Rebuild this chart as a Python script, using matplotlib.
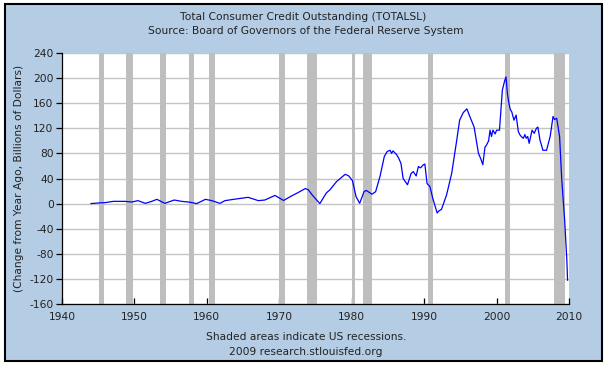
import matplotlib
matplotlib.use("Agg")
import matplotlib.pyplot as plt
from matplotlib.patches import Rectangle

# ---- data ----
years = [1944.0, 1945.0, 1945.9, 1947.1, 1948.7, 1949.6, 1950.5, 1951.5, 1952.4, 1953.1,
         1954.2, 1955.5, 1956.5, 1957.5, 1958.6, 1959.8, 1960.7, 1961.8, 1962.5, 1963.7,
         1965.7, 1967.1, 1968.0, 1969.4, 1970.6, 1971.5, 1972.5, 1973.6, 1974.0, 1974.6,
         1975.6, 1976.5, 1977.0, 1977.9, 1979.1, 1979.6, 1980.1, 1980.6, 1981.1, 1981.7,
         1982.0, 1982.8, 1983.3, 1983.9, 1984.5, 1984.9, 1985.3, 1985.5, 1985.7, 1986.2,
         1986.5, 1986.8, 1987.1, 1987.7, 1988.2, 1988.5, 1988.9, 1989.2, 1989.5, 1989.9,
         1990.1, 1990.4, 1990.8, 1991.2, 1991.8, 1992.0, 1992.4, 1993.1, 1993.8, 1994.5,
         1994.9, 1995.4, 1995.9, 1996.3, 1996.9, 1997.5, 1997.8, 1998.1, 1998.4, 1998.6,
         1998.9, 1999.1, 1999.3, 1999.5, 1999.8, 2000.0, 2000.4, 2000.8, 2001.1, 2001.3,
         2001.5, 2001.7, 2001.9, 2002.1, 2002.4, 2002.7, 2003.0, 2003.2, 2003.4, 2003.7,
         2003.9, 2004.1, 2004.3, 2004.5, 2004.9, 2005.2, 2005.5, 2005.7, 2006.0, 2006.4,
         2006.9, 2007.4, 2007.8, 2008.0, 2008.3, 2008.7, 2009.0, 2009.4, 2009.7, 2009.8]
values = [0, 1, 1.5, 3.6, 3.6, 2.5, 4.7, 0.4, 3.6, 6.8,
          0.4, 5.7, 3.6, 2.5, 0, 6.8, 4.7, 0.4, 4.7, 6.8,
          10, 4.7, 5.7, 13, 5, 11, 17, 24, 22, 13,
          0, 17, 22, 35, 46.7, 44, 36.6, 11, 0.5, 19,
          21, 15, 19, 43, 75, 83, 85, 80, 84, 78,
          72, 64, 40, 30, 48, 51, 44, 59, 57, 62,
          63, 32, 27, 8, -15, -12, -9, 14, 48, 101,
          133, 145, 151, 139, 122, 80, 72, 62, 90, 93,
          100, 117, 107, 117, 111, 117, 117, 181, 195, 202,
          175, 160, 150, 146, 133, 141, 115, 110, 107, 104,
          110, 104, 107, 96, 117, 112, 120, 122, 101, 85,
          85, 107, 139, 134, 136, 107, 38, -26, -90, -122]

recession_starts = [1945.08, 1948.83, 1953.5, 1957.58, 1960.25, 1969.92, 1973.83,
                    1980.0, 1981.5, 1990.5, 2001.17, 2007.92]
recession_ends = [1945.75, 1949.75, 1954.33, 1958.25, 1961.08, 1970.83, 1975.17,
                  1980.5, 1982.83, 1991.17, 2001.83, 2009.45]

x_ticks = [1940, 1950, 1960, 1970, 1980, 1990, 2000, 2010]
x_labels = ["1940", "1950", "1960", "1970", "1980", "1990", "2000", "2010"]
y_ticks = [-160, -120, -80, -40, 0, 40, 80, 120, 160, 200, 240]
y_labels = ["-160", "-120", "-80", "-40", "0", "40", "80", "120", "160", "200", "240"]

title1 = "Total Consumer Credit Outstanding (TOTALSL)"
title2 = "Source: Board of Governors of the Federal Reserve System"
ylabel = "(Change from Year Ago, Billions of Dollars)"
foot1 = "Shaded areas indicate US recessions."
foot2 = "2009 research.stlouisfed.org"

# ---- figure ----
W, H = 605, 366
fig = plt.figure(figsize=(W / 100, H / 100), dpi=100, facecolor="white")
bg = "#B4CCE4"
txt = "#222222"
fig.patches.append(Rectangle((5 / W, 1 - 361 / H), 597 / W, 357 / H,
                             transform=fig.transFigure, facecolor=bg,
                             edgecolor="black", linewidth=1.5, zorder=-10))

ax = fig.add_axes([62 / W, 1 - 304 / H, 507 / W, 251 / H])
ax.set_facecolor("white")
ax.set_xlim(1940, 2010)
ax.set_ylim(-160, 240)

for s, e in zip(recession_starts, recession_ends):
    ax.axvspan(s, e, color="#BEBEBE", lw=0, zorder=1)

ax.set_axisbelow(True)
ax.yaxis.grid(True, color="#C4C4C4", linewidth=1.0)
ax.xaxis.grid(False)

ax.plot(years, values, color="#0000FF", linewidth=0.9, zorder=3)

for side in ("top", "right"):
    ax.spines[side].set_visible(False)
for side in ("left", "bottom"):
    ax.spines[side].set_color("black")
    ax.spines[side].set_linewidth(0.9)
    ax.spines[side].set_zorder(4)

fs = 7.7
ax.set_xticks(x_ticks)
ax.set_xticklabels(x_labels)
ax.set_yticks(y_ticks)
ax.set_yticklabels(y_labels)
ax.tick_params(axis="x", direction="in", length=4, width=0.9, labelsize=fs,
               labelcolor=txt, pad=6)
ax.tick_params(axis="y", direction="out", length=4, width=0.9, labelsize=fs,
               labelcolor=txt, pad=2)

ax.set_ylabel(ylabel, fontsize=fs, color=txt, labelpad=4)

fig.text(0.5 + 1 / W, 1 - 17 / H, title1, ha="center", va="center", fontsize=fs, color=txt)
fig.text(0.5 + 3 / W, 1 - 31 / H, title2, ha="center", va="center", fontsize=fs, color=txt)
fig.text(306 / W, 1 - 337 / H, foot1, ha="center", va="center", fontsize=fs, color=txt)
fig.text(306 / W, 1 - 352 / H, foot2, ha="center", va="center", fontsize=fs, color=txt)

fig.savefig("out.png", dpi=100, facecolor="white")
